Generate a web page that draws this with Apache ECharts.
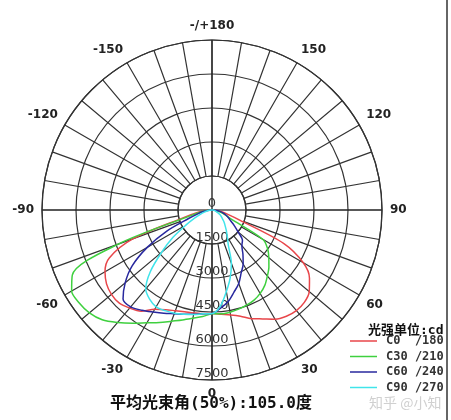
<!DOCTYPE html>
<html>
<head>
<meta charset="utf-8">
<script src="https://cdn.jsdelivr.net/npm/echarts@6/dist/echarts.min.js"></script>
<style>
  html, body { margin: 0; padding: 0; background: #fff; }
  #chart { width: 451px; height: 420px; }
</style>
</head>
<body>
<div id="chart"></div>
<script>
// gamma angle in degrees: 0 = straight down, + to the right, - to the left
const gammas = [-90, -85, -80, -75, -70, -65, -60, -55, -50, -45, -40, -35, -30, -25, -20, -15, -10, -5, 0,
  5, 10, 15, 20, 25, 30, 35, 40, 45, 50, 55, 60, 65, 70, 75, 80, 85, 90]

// luminous intensity (cd) per C-plane, one value per gamma
const c0 = [0, 300, 650, 1300, 3700, 5000, 5450, 5680, 5790, 5800, 5650, 5450, 5050, 4850, 4730, 4650, 4610, 4590, 4570,
  4620, 4700, 4850, 5100, 5300, 5560, 5720, 5790, 5760, 5600, 5250, 4650, 3500, 1300, 700, 400, 200, 0]
const c30 = [0, 250, 500, 1000, 4400, 6800, 7150, 7150, 7060, 6850, 6480, 6100, 5750, 5480, 5220, 5020, 4850, 4720, 4580,
  4600, 4580, 4530, 4470, 4390, 4250, 4060, 3800, 3550, 3270, 3000, 2600, 900, 600, 400, 250, 100, 0]
const c60 = [0, 200, 400, 650, 1100, 2200, 3300, 4300, 5000, 5550, 5580, 5400, 5200, 5030, 4870, 4760, 4670, 4600, 4570,
  4350, 4100, 3750, 3450, 3050, 2750, 2380, 2050, 1900, 1500, 1200, 950, 800, 650, 500, 350, 150, 0]
const c90 = [0, 100, 200, 350, 550, 850, 1330, 2100, 2900, 3850, 4550, 4800, 4930, 4900, 4850, 4760, 4680, 4600, 4570,
  4250, 3650, 3100, 2500, 1700, 1350, 1100, 900, 750, 600, 500, 400, 280, 200, 150, 100, 50, 0]

const seriesNames = ['C0  /180', 'C30 /210', 'C60 /240', 'C90 /270']
const seriesColors = ['#e8464a', '#3fd03f', '#28289e', '#40e4ea']
const radiusTicks = [0, 1500, 3000, 4500, 6000, 7500]
const angleLabelStep = 30
const caption = '平均光束角(50%):105.0度'
const unitText = '光强单位:cd'
const watermark = '知乎 @小知'

const center = [212, 210]
const R = 170

function toPolar(vals) {
  return vals.map((v, i) => [v, gammas[i] < 0 ? gammas[i] + 360 : gammas[i]])
}

const chart = echarts.init(document.getElementById('chart'))
const allData = [c0, c30, c60, c90]

chart.setOption({
  backgroundColor: '#fff',
  animation: false,
  title: [
    {
      text: caption, left: 105, top: 391,
      textStyle: {fontFamily: 'DejaVu Sans Mono, Noto Sans CJK SC', fontSize: 16, fontWeight: 'bold', color: '#111'}
    },
    {
      text: unitText, left: 363, top: 319,
      textStyle: {fontFamily: 'DejaVu Sans Mono, Noto Sans CJK SC', fontSize: 13, fontWeight: 'bold', color: '#111'}
    },
    {
      text: watermark, left: 364, top: 391,
      textStyle: {fontFamily: 'Noto Sans CJK SC', fontSize: 14, fontWeight: 'normal', color: '#d0d0d0'}
    }
  ],
  legend: {
    orient: 'vertical',
    left: 345, top: 330,
    itemWidth: 27, itemHeight: 1.5, itemGap: 3.5,
    icon: 'rect',
    data: seriesNames,
    textStyle: {fontFamily: 'DejaVu Sans Mono', fontSize: 12, fontWeight: 'bold', color: '#333', padding: [0, 0, 0, 4]}
  },
  polar: [
    {center: center, radius: [0, R]},
    {center: center, radius: [R / 5, R]}
  ],
  angleAxis: [
    {
      polarIndex: 0, type: 'value', min: 0, max: 360, interval: 90,
      startAngle: 270, clockwise: false,
      axisLine: {show: false}, axisTick: {show: false}, axisLabel: {show: false},
      splitLine: {show: true, lineStyle: {color: '#000', width: 1.2}}
    },
    {
      polarIndex: 1, type: 'value', min: 0, max: 360, interval: 10,
      startAngle: 270, clockwise: false,
      axisLine: {show: true, lineStyle: {color: '#333', width: 1.2}},
      axisTick: {show: false},
      axisLabel: {
        show: true, margin: 8,
        fontFamily: 'DejaVu Sans', fontSize: 12, fontWeight: 'bold', color: '#222',
        formatter: v => {
          if (v % angleLabelStep !== 0 || v === 360) return ''
          if (v === 180) return '-/+180'
          return v > 180 ? String(v - 360) : String(v)
        }
      },
      splitLine: {show: true, lineStyle: {color: '#333', width: 1.2}}
    }
  ],
  radiusAxis: [
    {
      polarIndex: 0, type: 'value', min: 0, max: 7500, interval: 1500,
      axisLine: {show: false}, axisTick: {show: false},
      axisLabel: {
        show: true, margin: 0, align: 'center', verticalAlign: 'bottom',
        fontFamily: 'DejaVu Sans', fontSize: 13, color: '#333',
        formatter: v => radiusTicks.includes(v) ? String(v) : ''
      },
      splitLine: {show: true, lineStyle: {color: '#333', width: 1.2}}
    },
    {
      polarIndex: 1, type: 'value', min: 0, max: 7500,
      axisLine: {show: false}, axisTick: {show: false}, axisLabel: {show: false},
      splitLine: {show: false}
    }
  ],
  series: allData.map((vals, i) => ({
    name: seriesNames[i],
    type: 'line',
    coordinateSystem: 'polar',
    polarIndex: 0,
    showSymbol: false,
    symbol: 'none',
    smooth: 0.3,
    data: toPolar(vals),
    lineStyle: {color: seriesColors[i], width: 1.5},
    itemStyle: {color: seriesColors[i]}
  })),
  graphic: [
    {type: 'rect', shape: {x: 447, y: 0, width: 4, height: 420}, style: {fill: '#fff'}, z: 100},
    {type: 'line', shape: {x1: 447, y1: 0, x2: 447, y2: 420}, style: {stroke: '#333', lineWidth: 1.5}, z: 101}
  ]
})
</script>
</body>
</html>
